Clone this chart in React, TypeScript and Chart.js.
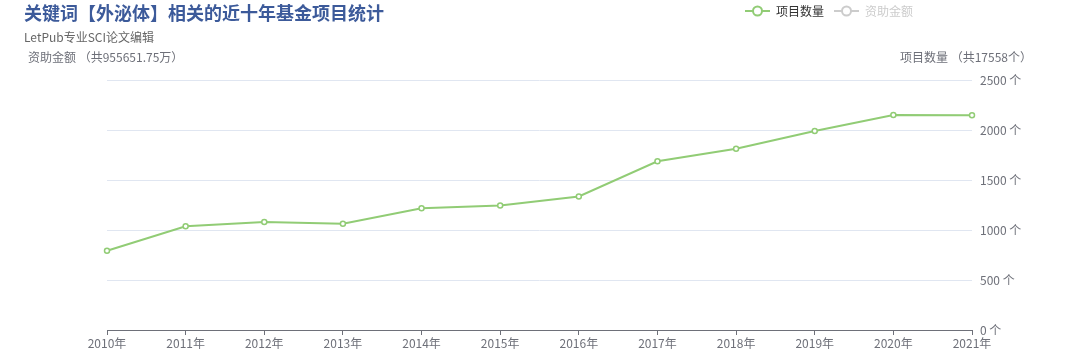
import React, { useEffect, useRef } from "react";
import { Chart, registerables } from "chart.js";

Chart.register(...registerables);

const years = ["2010年", "2011年", "2012年", "2013年", "2014年", "2015年", "2016年", "2017年", "2018年", "2019年", "2020年", "2021年"];
const projectCounts = [793, 1037, 1080, 1063, 1217, 1245, 1335, 1687, 1813, 1990, 2150, 2148];
const titleText = "关键词【外泌体】相关的近十年基金项目统计";
const subtitleText = "LetPub专业SCI论文编辑";
const leftAxisName = "资助金额 （共955651.75万）";
const rightAxisName = "项目数量 （共17558个）";
const legendLabels = ["项目数量", "资助金额"];

const FONT = '"Noto Sans CJK SC", "Noto Sans", sans-serif';
const GREEN = "#91cc75";
const AXIS = "#6e7079";

const textPlugin = {
  id: "textPlugin",
  afterDraw(chart: any) {
    const ctx = chart.ctx;
    ctx.save();
    ctx.textBaseline = "middle";
    ctx.textAlign = "left";
    ctx.fillStyle = "#3c5a9a";
    ctx.font = `bold 18px ${FONT}`;
    ctx.fillText(titleText, 24, 13);
    ctx.fillStyle = "#666";
    ctx.font = `12px ${FONT}`;
    ctx.fillText(subtitleText, 24, 37);
    ctx.fillStyle = AXIS;
    ctx.fillText(leftAxisName, 28, 57);
    ctx.textAlign = "right";
    ctx.fillText(rightAxisName, 1032, 57);
    // legend
    const drawItem = (x: number, color: string, textColor: string, label: string) => {
      ctx.strokeStyle = color;
      ctx.lineWidth = 2;
      ctx.beginPath();
      ctx.moveTo(x, 11);
      ctx.lineTo(x + 25, 11);
      ctx.stroke();
      ctx.fillStyle = "#fff";
      ctx.beginPath();
      ctx.arc(x + 12.5, 11, 4.5, 0, Math.PI * 2);
      ctx.fill();
      ctx.stroke();
      ctx.fillStyle = textColor;
      ctx.textAlign = "left";
      ctx.font = `12px ${FONT}`;
      ctx.fillText(label, x + 31, 11);
    };
    drawItem(745, GREEN, "#333", legendLabels[0]);
    drawItem(834, "#ccc", "#ccc", legendLabels[1]);
    ctx.restore();
  },
};

export default function App() {
  const ref = useRef<HTMLCanvasElement>(null);
  useEffect(() => {
    if (!ref.current) return;
    const chart = new Chart(ref.current, {
      type: "line",
      data: {
        labels: years,
        datasets: [
          {
            label: legendLabels[0],
            data: projectCounts,
            borderColor: GREEN,
            backgroundColor: "#fff",
            borderWidth: 2,
            pointRadius: 2.5,
            pointBorderWidth: 1.5,
            pointBackgroundColor: "#fff",
            pointBorderColor: GREEN,
            tension: 0,
            clip: false as any,
          },
        ],
      },
      options: {
        animation: false,
        responsive: false,
        maintainAspectRatio: false,
        layout: { padding: { left: 107, top: 80, right: 0, bottom: 0 } },
        plugins: { legend: { display: false }, tooltip: { enabled: false } },
        scales: {
          x: {
            offset: false,
            grid: { display: true, drawOnChartArea: false, drawTicks: true, tickLength: 5, color: AXIS },
            border: { display: true, color: AXIS, width: 1 },
            ticks: { color: AXIS, font: { size: 12, family: FONT }, padding: 1, maxRotation: 0, autoSkip: false },
            afterFit(s: any) { s.height = 28; },
          },
          y: {
            position: "right",
            min: 0,
            max: 2500,
            grid: { color: "#e0e6f1", drawTicks: false },
            border: { display: false },
            ticks: {
              stepSize: 500,
              color: AXIS,
              font: { size: 12, family: FONT },
              padding: 8,
              callback: (v: any) => `${v} 个`,
            },
            afterFit(s: any) { s.width = 108; },
          },
        },
      },
      plugins: [textPlugin],
    });
    return () => chart.destroy();
  }, []);
  return (
    <div style={{ position: "fixed", left: 0, top: 0, width: 1080, height: 358, background: "#fff" }}>
      <canvas ref={ref} width={1080} height={358} style={{ width: 1080, height: 358 }} />
    </div>
  );
}
